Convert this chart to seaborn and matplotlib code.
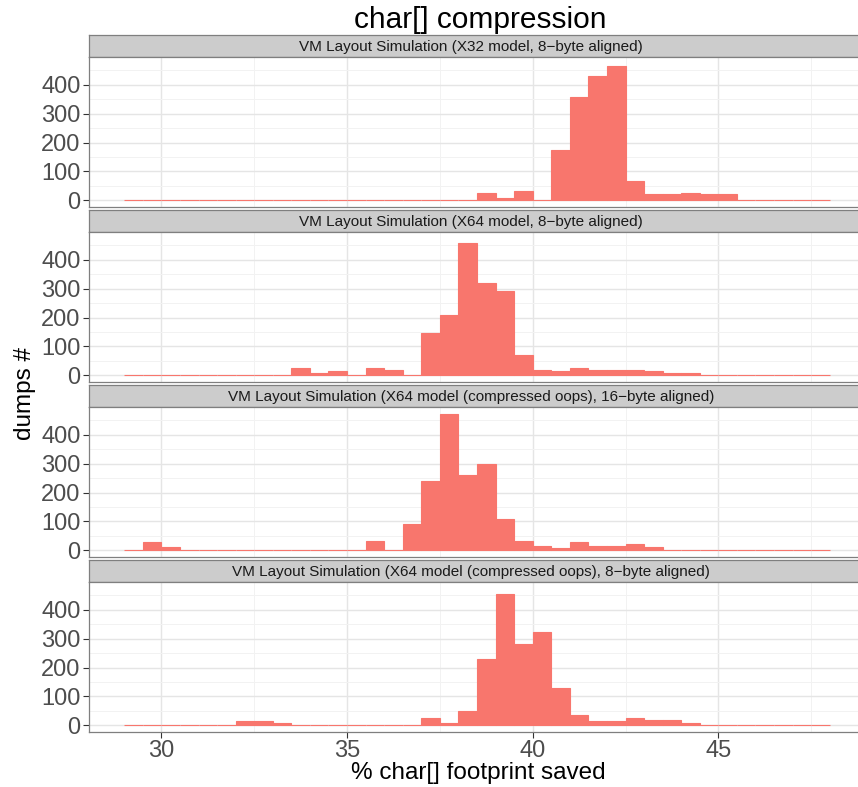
import numpy as np
import pandas as pd
import matplotlib
matplotlib.use("Agg")
import matplotlib.pyplot as plt
import seaborn as sns

# ---------------- data (bin counts, bins of width 0.5 from 29 to 48) ----------------
bin_edges_start = 29.0
bin_width = 0.5
n_bins = 38

facets = [
    "VM Layout Simulation (X32 model, 8\u2212byte aligned)",
    "VM Layout Simulation (X64 model, 8\u2212byte aligned)",
    "VM Layout Simulation (X64 model (compressed oops), 16\u2212byte aligned)",
    "VM Layout Simulation (X64 model (compressed oops), 8\u2212byte aligned)",
]

# counts keyed by bin left edge
x32_8 = {38.5: 26, 39.0: 9, 39.5: 32, 40.5: 175, 41.0: 357, 41.5: 430, 42.0: 467,
         42.5: 67, 43.0: 20, 43.5: 20, 44.0: 25, 44.5: 20, 45.0: 20}
x64_8 = {33.5: 25, 34.0: 8, 34.5: 14, 35.5: 25, 36.0: 18, 37.0: 145, 37.5: 208,
         38.0: 457, 38.5: 320, 39.0: 292, 39.5: 70, 40.0: 18, 40.5: 13, 41.0: 25,
         41.5: 18, 42.0: 18, 42.5: 18, 43.0: 14, 43.5: 7, 44.0: 7}
x64c_16 = {29.5: 27, 30.0: 10, 35.5: 32, 36.5: 90, 37.0: 240, 37.5: 473, 38.0: 260,
           38.5: 300, 39.0: 108, 39.5: 32, 40.0: 15, 40.5: 9, 41.0: 27, 41.5: 15,
           42.0: 15, 42.5: 21, 43.0: 10}
x64c_8 = {32.0: 15, 32.5: 15, 33.0: 7, 37.0: 25, 37.5: 8, 38.0: 48, 38.5: 229,
          39.0: 454, 39.5: 282, 40.0: 323, 40.5: 129, 41.0: 37, 41.5: 15, 42.0: 15,
          42.5: 25, 43.0: 18, 43.5: 18, 44.0: 8}
series = [x32_8, x64_8, x64c_16, x64c_8]

rows = []
for name, d in zip(facets, series):
    for i in range(n_bins):
        left = bin_edges_start + i * bin_width
        rows.append({"facet": name, "x": left + bin_width / 2,
                     "count": d.get(left, 0)})
df = pd.DataFrame(rows)

# ---------------- styling ----------------
sns.set_theme(style="white")
plt.rcParams["font.family"] = ["Liberation Sans", "DejaVu Sans"]

W, H = 858, 787
fig = plt.figure(figsize=(W / 100, H / 100), dpi=100)

left_px, right_px = 89, 865
strip_h = 22
panels_px = [(35, 207), (210, 382), (385, 557), (560, 732)]
fill = "#F8766D"
ymax_all = 473
ylim = (-0.05 * ymax_all, ymax_all * 1.05)
xlim = (29 - 0.05 * 19, 48 + 0.05 * 19)

def fx(px):
    return px / W

def fy(px):
    return 1 - px / H

for k, (name, (top, bot)) in enumerate(zip(facets, panels_px)):
    # strip
    sax = fig.add_axes([fx(left_px), fy(top + strip_h), fx(right_px - left_px), strip_h / H])
    sax.set_facecolor("#CCCCCC")
    sax.set_xticks([]); sax.set_yticks([])
    for s in sax.spines.values():
        s.set_color("#7F7F7F"); s.set_linewidth(0.9)
    sax.text(fx(471 - left_px) / fx(right_px - left_px), 0.45, name, ha="center",
             va="center", fontsize=11, color="#1A1A1A", transform=sax.transAxes)

    ax = fig.add_axes([fx(left_px), fy(bot), fx(right_px - left_px), (bot - top - strip_h) / H])
    sub = df[df["facet"] == name]
    sns.histplot(data=sub, x="x", weights="count", binwidth=bin_width,
                 binrange=(29.0, 48.0), ax=ax,
                 color=fill, alpha=1, edgecolor=fill, linewidth=0.8)
    ax.set_facecolor("white")
    ax.set_xticks([30, 35, 40, 45])
    ax.set_xticks([32.5, 37.5, 42.5, 47.5], minor=True)
    ax.set_yticks([0, 100, 200, 300, 400])
    ax.set_yticks([50, 150, 250, 350, 450], minor=True)
    ax.set_xlim(*xlim)
    ax.set_ylim(*ylim)
    ax.grid(which="major", color="#E5E5E5", linewidth=1.0)
    ax.grid(which="minor", color="#F2F2F2", linewidth=0.7)
    ax.set_axisbelow(True)
    for s in ax.spines.values():
        s.set_color("#7F7F7F"); s.set_linewidth(0.9)
    ax.tick_params(axis="y", which="major", length=4, width=0.8, color="#333333",
                   labelsize=17, labelcolor="#4D4D4D", pad=2, left=True)
    ax.tick_params(axis="x", which="major", length=4 if k == 3 else 0, width=0.8,
                   color="#333333", labelsize=17, labelcolor="#4D4D4D", pad=2,
                   bottom=(k == 3), labelbottom=(k == 3))
    ax.tick_params(which="minor", length=0)
    ax.set_xlabel("")
    ax.set_ylabel("")

fig.text(fx(480), fy(20), "char[] compression", ha="center", va="center",
         fontsize=21.5, color="#000000")
fig.text(fx(478), fy(773), "% char[] footprint saved", ha="center", va="center",
         fontsize=17.5, color="#000000")
fig.text(fx(25), fy(394), "dumps #", ha="center", va="center", rotation=90,
         fontsize=17.5, color="#000000")

fig.savefig("out.png", dpi=100)
